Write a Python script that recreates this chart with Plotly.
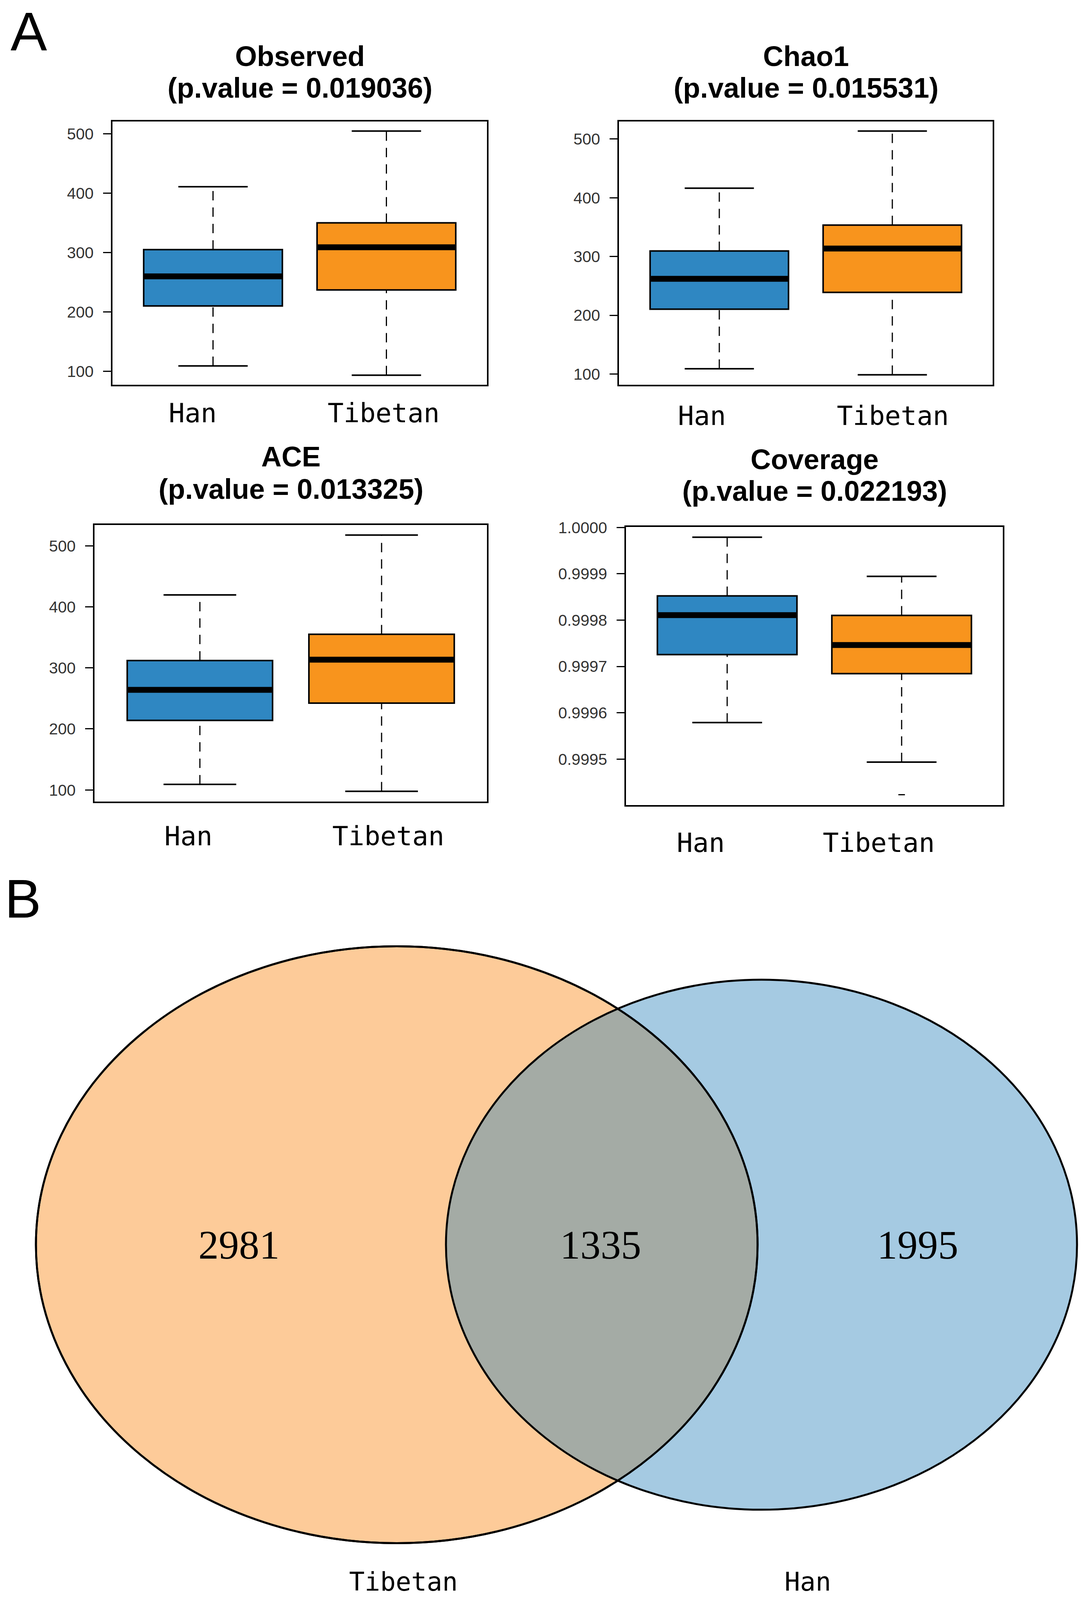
'''
Alpha diversity boxplots (panel A) and shared OTU Venn diagram (panel B)
for the Han and Tibetan groups.
'''
import plotly.graph_objects as go

# ---- data -------------------------------------------------------------
groups = ['Han', 'Tibetan']
metrics = ['Observed', 'Chao1', 'ACE', 'Coverage']
p_values = ['0.019036', '0.015531', '0.013325', '0.022193']

# per metric: lower whisker, Q1, median, Q3, upper whisker (Han, Tibetan)
whisker_low = [[109, 93.5], [109, 98.6], [109, 97.7],
               [0.999579, 0.9994935]]
q1 = [[210, 237], [210.3, 239], [213.8, 242.2],
      [0.9997257, 0.9996846]]
median = [[260, 309], [262, 313.6], [263.9, 313.5],
          [0.9998107, 0.9997462]]
q3 = [[305, 350], [309.4, 353.5], [312, 355],
      [0.9998523, 0.9998101]]
whisker_high = [[411, 504.7], [416.4, 513.6], [419.6, 517.6],
                [0.999979, 0.9998945]]
# outliers (group index, value)
outliers = [[], [], [], [(1, 0.9994232)]]

tick_values = [[100, 200, 300, 400, 500]] * 3 + [
    [0.9995, 0.9996, 0.9997, 0.9998, 0.9999, 1.0]]

venn_sets = ['Tibetan', 'Han']
venn_counts = [2981, 1335, 1995]   # Tibetan only, shared, Han only

# ---- layout constants (pixels of the 2781 x 4643 reference) ---------------
W, H = 2781, 4643
box_colors = ['#2F87C2', '#F8941D']

# frame of each boxplot: x0, x1, y0 (top), y1 (bottom)
frames = [(288, 1247, 352, 1117), (1585, 2542, 352, 1116),
          (242, 1247, 1523, 2326), (1603, 2568, 1529, 2336)]
title_rows = [(163, 255), (163, 255), (1325, 1419), (1333, 1425)]
label_x = [(493, 982), (1798, 2286), (482, 995), (1794, 2250)]
label_y = [1199, 1207, 2426, 2446]


def px(x):
    return x / W


def py(y):
    return 1 - y / H


fig = go.Figure()
annotations = []

for k, name in enumerate(metrics):
    xa = 'x' if k == 0 else f'x{k + 1}'
    ya = 'y' if k == 0 else f'y{k + 1}'
    pos = [1, 2]

    # boxes
    fig.add_trace(go.Bar(
        x=pos, base=q1[k], y=[b - a for a, b in zip(q1[k], q3[k])],
        width=0.8, marker=dict(color=box_colors,
                               line=dict(color='black', width=4)),
        xaxis=xa, yaxis=ya, showlegend=False, hoverinfo='skip'))

    for i, p in enumerate(pos):
        # dashed whiskers
        for lo, hi in [(q3[k][i], whisker_high[k][i]),
                       (whisker_low[k][i], q1[k][i])]:
            fig.add_trace(go.Scatter(
                x=[p, p], y=[lo, hi], mode='lines',
                line=dict(color='black', width=3, dash='24px,18px'),
                xaxis=xa, yaxis=ya, showlegend=False, hoverinfo='skip'))
        # staples
        for v in [whisker_low[k][i], whisker_high[k][i]]:
            fig.add_trace(go.Scatter(
                x=[p - 0.2, p + 0.2], y=[v, v], mode='lines',
                line=dict(color='black', width=4),
                xaxis=xa, yaxis=ya, showlegend=False, hoverinfo='skip'))
        # thick median line
        fig.add_trace(go.Scatter(
            x=[p - 0.4, p + 0.4], y=[median[k][i]] * 2, mode='lines',
            line=dict(color='black', width=15),
            xaxis=xa, yaxis=ya, showlegend=False, hoverinfo='skip'))

    for gi, val in outliers[k]:
        fig.add_trace(go.Scatter(
            x=[pos[gi]], y=[val], mode='markers',
            marker=dict(symbol='line-ew', size=12,
                        line=dict(color='black', width=3)),
            xaxis=xa, yaxis=ya, showlegend=False, hoverinfo='skip'))

    # R style axis limits: data range extended by 4%
    all_vals = whisker_low[k] + whisker_high[k] + [v for _, v in outliers[k]]
    lo, hi = min(all_vals), max(all_vals)
    pad = 0.04 * (hi - lo)

    x0, x1, y0, y1 = frames[k]
    axis_line = dict(showline=True, mirror=True, linecolor='black',
                     linewidth=4, showgrid=False, zeroline=False,
                     fixedrange=True)
    fig.update_layout({
        f'xaxis{"" if k == 0 else k + 1}': dict(
            axis_line, domain=[px(x0), px(x1)], range=[0.42, 2.58],
            anchor=ya, showticklabels=False, ticks=''),
        f'yaxis{"" if k == 0 else k + 1}': dict(
            axis_line, domain=[py(y1), py(y0)], range=[lo - pad, hi + pad],
            anchor=xa, ticks='outside', ticklen=20, tickwidth=3,
            tickcolor='black', tickvals=tick_values[k],
            tickformat='.4f' if name == 'Coverage' else 'd',
            ticklabelstandoff=16,
            tickfont=dict(family='Liberation Sans', size=41,
                          color='#333333')),
    })

    # two-line bold title
    cx = (x0 + x1) / 2
    for text, ty in zip([name, f'(p.value = {p_values[k]})'], title_rows[k]):
        annotations.append(dict(
            text=f'<b>{text}</b>', x=px(cx), y=py(ty), xref='paper',
            yref='paper', xanchor='center', yanchor='middle',
            showarrow=False,
            font=dict(family='Liberation Sans', size=72, color='black')))

    # group names under the frame
    for g, lx in zip(groups, label_x[k]):
        annotations.append(dict(
            text=g, x=px(lx), y=py(label_y[k]), xref='paper', yref='paper',
            xanchor='center', yanchor='middle', showarrow=False,
            font=dict(family='DejaVu Sans Mono', size=68, color='black')))

# ---- panel B: Venn diagram --------------------------------------------------
left = dict(cx=1016, cy=3612, rx=924, ry=866)
right = dict(cx=1950, cy=3612, rx=808, ry=769)


def ellipse(e, fill, line_width):
    return dict(type='circle', xref='paper', yref='paper',
                x0=px(e['cx'] - e['rx']), x1=px(e['cx'] + e['rx']),
                y0=py(e['cy'] + e['ry']), y1=py(e['cy'] - e['ry']),
                fillcolor=fill, line=dict(color='black', width=line_width))


shapes = [
    ellipse(left, '#FDCB99', 5),
    ellipse(right, 'rgba(30,122,182,0.4)', 5),
    ellipse(left, 'rgba(0,0,0,0)', 5),
]

for count, vx in zip(venn_counts, [612, 1538, 2350]):
    annotations.append(dict(
        text=str(count), x=px(vx), y=py(3612), xref='paper', yref='paper',
        xanchor='center', yanchor='middle', showarrow=False,
        font=dict(family='Liberation Serif', size=104, color='black')))

for name, vx in zip(venn_sets, [1033, 2068]):
    annotations.append(dict(
        text=name, x=px(vx), y=py(4590), xref='paper', yref='paper',
        xanchor='center', yanchor='middle', showarrow=False,
        font=dict(family='DejaVu Sans Mono', size=66, color='black')))

# panel letters
annotations.append(dict(
    text='A', x=px(74), y=1, xref='paper', yref='paper',
    xanchor='center', yanchor='top', showarrow=False,
    font=dict(family='Liberation Sans', size=140, color='black')))
annotations.append(dict(
    text='B', x=px(58), y=py(2608), xref='paper', yref='paper',
    xanchor='center', yanchor='middle', showarrow=False,
    font=dict(family='Liberation Sans', size=140, color='black')))

fig.update_layout(
    autosize=True,
    margin=dict(l=0, r=0, t=0, b=0),
    paper_bgcolor='white', plot_bgcolor='white',
    template='none',
    showlegend=False,
    annotations=annotations,
    shapes=shapes,
)

# the figure fills the browser window, whatever its visible height is
fig.write_html(
    'out.html',
    config={'displayModeBar': False, 'responsive': True},
    default_width='100vw', default_height='100vh',
    post_script=("document.body.style.margin='0';"
                 "document.body.style.overflow='hidden';"
                 "Plotly.Plots.resize(document.getElementById('{plot_id}'));"),
)
